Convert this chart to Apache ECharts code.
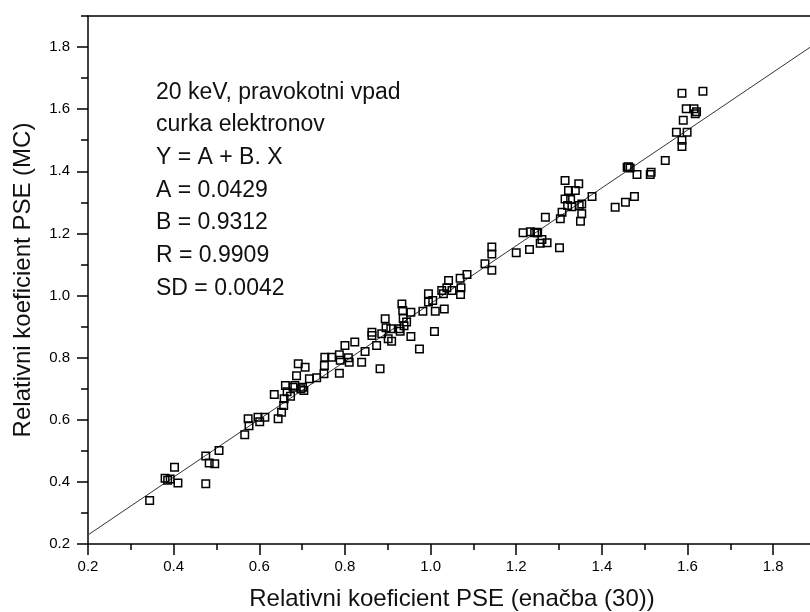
<!DOCTYPE html>
<html><head><meta charset="utf-8">
<script src="https://cdn.jsdelivr.net/npm/echarts@6/dist/echarts.min.js"></script>
<style>html,body{margin:0;padding:0;background:#fff}#c{width:810px;height:612px}</style>
</head><body><div id="c"></div>
<script>
// ---- data ----
const xValues = [
 0.344,0.380,0.386,0.392,0.402,0.410,0.475,0.475,0.483,0.496,0.506,0.566,0.574,0.576,0.597,0.601,0.613,
 0.635,0.644,0.652,0.657,0.658,0.661,0.665,0.673,0.679,0.683,0.687,0.691,0.697,0.701,0.704,0.707,0.717,
 0.734,0.751,0.752,0.753,0.769,0.787,0.789,0.787,0.800,0.808,0.810,0.823,0.839,0.847,0.863,0.863,0.874,
 0.882,0.886,0.894,0.896,0.901,0.909,0.907,0.927,0.929,0.933,0.935,0.936,0.944,0.938,0.954,0.954,0.974,
 0.982,0.995,0.995,1.005,1.009,1.011,1.032,1.026,1.030,1.038,1.042,1.050,1.069,1.071,1.070,1.085,1.127,
 1.143,1.143,1.143,1.200,1.216,1.231,1.233,1.243,1.256,1.250,1.248,1.260,1.272,1.268,1.301,1.307,1.303,
 1.314,1.322,1.314,1.327,1.320,1.330,1.347,1.353,1.346,1.338,1.353,1.350,1.377,1.431,1.455,1.476,1.459,
 1.462,1.466,1.482,1.513,1.515,1.548,1.574,1.599,1.587,1.587,1.590,1.597,1.587,1.615,1.621,1.618,1.636
];
const yValues = [
 0.340,0.412,0.405,0.409,0.447,0.396,0.483,0.394,0.461,0.458,0.501,0.552,0.603,0.581,0.608,0.594,0.608,
 0.681,0.603,0.624,0.646,0.668,0.710,0.690,0.676,0.705,0.710,0.742,0.780,0.700,0.705,0.694,0.769,0.732,
 0.735,0.748,0.775,0.801,0.801,0.809,0.792,0.750,0.839,0.800,0.785,0.850,0.785,0.820,0.882,0.871,0.839,
 0.764,0.877,0.925,0.896,0.861,0.853,0.893,0.893,0.885,0.973,0.952,0.926,0.915,0.903,0.946,0.868,0.828,
 0.949,0.979,1.006,0.984,0.884,0.949,0.957,1.016,1.006,1.025,1.048,1.016,1.056,1.025,1.003,1.068,1.102,
 1.156,1.134,1.081,1.138,1.202,1.148,1.205,1.202,1.168,1.202,1.204,1.180,1.170,1.252,1.154,1.268,1.247,
 1.370,1.338,1.311,1.309,1.290,1.286,1.290,1.295,1.360,1.338,1.263,1.239,1.319,1.284,1.300,1.319,1.413,
 1.415,1.411,1.390,1.390,1.397,1.435,1.526,1.526,1.500,1.480,1.564,1.601,1.651,1.601,1.592,1.585,1.658
];
const fitA = 0.0429;
const fitB = 0.9312;
const axisMin = 0.2;
const axisMax = 1.9;
const majorTicks = [0.2,0.4,0.6,0.8,1.0,1.2,1.4,1.6,1.8];
const minorTicks = [0.3,0.5,0.7,0.9,1.1,1.3,1.5,1.7,1.9];
const annotationLines = [
 '20 keV, pravokotni vpad',
 'curka elektronov',
 'Y = A + B. X',
 'A = 0.0429',
 'B = 0.9312',
 'R = 0.9909',
 'SD = 0.0042'
];
const xTitle = 'Relativni koeficient PSE (enačba (30))';
const yTitle = 'Relativni koeficient PSE (MC)';

// ---- chart ----
const points = xValues.map((x, i) => [x, yValues[i]]);
const fitLine = [[axisMin, fitA + fitB * axisMin], [axisMax, fitA + fitB * axisMax]];
const FONT = 'Arial, "Liberation Sans", sans-serif';
const lineStyle = {color: '#000', width: 1.5};

function baseAxis(extra) {
  return Object.assign({
    type: 'value', min: axisMin, max: axisMax,
    splitLine: {show: false},
    axisLine: {show: false},
    axisTick: {show: false},
    axisLabel: {show: false}
  }, extra);
}

const chart = echarts.init(document.getElementById('c'));
chart.setOption({
  animation: false,
  backgroundColor: '#fff',
  grid: {left: 88, top: 16, bottom: 68, right: -6, outerBoundsMode: 'none'},
  xAxis: [
    baseAxis({
      position: 'bottom',
      name: xTitle, nameLocation: 'middle', nameGap: 43,
      nameTextStyle: {fontFamily: FONT, fontSize: 24, color: '#111'},
      axisLine: {show: true, onZero: false, lineStyle},
      axisTick: {show: true, length: 11, lineStyle, customValues: majorTicks},
      axisLabel: {show: true, margin: 15, fontFamily: FONT, fontSize: 15, color: '#000',
        customValues: majorTicks, formatter: v => v.toFixed(1)}
    }),
    baseAxis({
      position: 'bottom',
      axisTick: {show: true, length: 6, lineStyle, customValues: minorTicks}
    }),
    baseAxis({
      position: 'top',
      axisLine: {show: true, onZero: false, lineStyle}
    })
  ],
  yAxis: [
    baseAxis({
      position: 'left',
      name: yTitle, nameLocation: 'middle', nameGap: 53,
      nameTextStyle: {fontFamily: FONT, fontSize: 24, color: '#111'},
      axisLine: {show: true, onZero: false, lineStyle},
      axisTick: {show: true, length: 11, lineStyle, customValues: majorTicks},
      axisLabel: {show: true, margin: 18, fontFamily: FONT, fontSize: 15, color: '#000',
        customValues: majorTicks, formatter: v => v.toFixed(1)}
    }),
    baseAxis({
      position: 'left',
      axisTick: {show: true, length: 7, lineStyle, customValues: minorTicks}
    }),
    baseAxis({
      position: 'right',
      axisLine: {show: true, onZero: false, lineStyle}
    })
  ],
  series: [
    {
      type: 'line', xAxisIndex: 0, yAxisIndex: 0,
      data: fitLine, symbol: 'none', silent: true, z: 1,
      lineStyle: {color: '#333', width: 1}
    },
    {
      type: 'scatter', xAxisIndex: 0, yAxisIndex: 0,
      data: points, symbol: 'rect', symbolSize: 7.5, z: 3,
      itemStyle: {color: 'rgba(0,0,0,0)', borderColor: '#000', borderWidth: 1.5, opacity: 1}
    }
  ],
  graphic: [{
    type: 'text', left: 156, top: 76,
    style: {
      text: annotationLines.join('\n'),
      font: '23px ' + FONT, fill: '#111', lineHeight: 32.7
    }
  }]
});
</script>
</body></html>
